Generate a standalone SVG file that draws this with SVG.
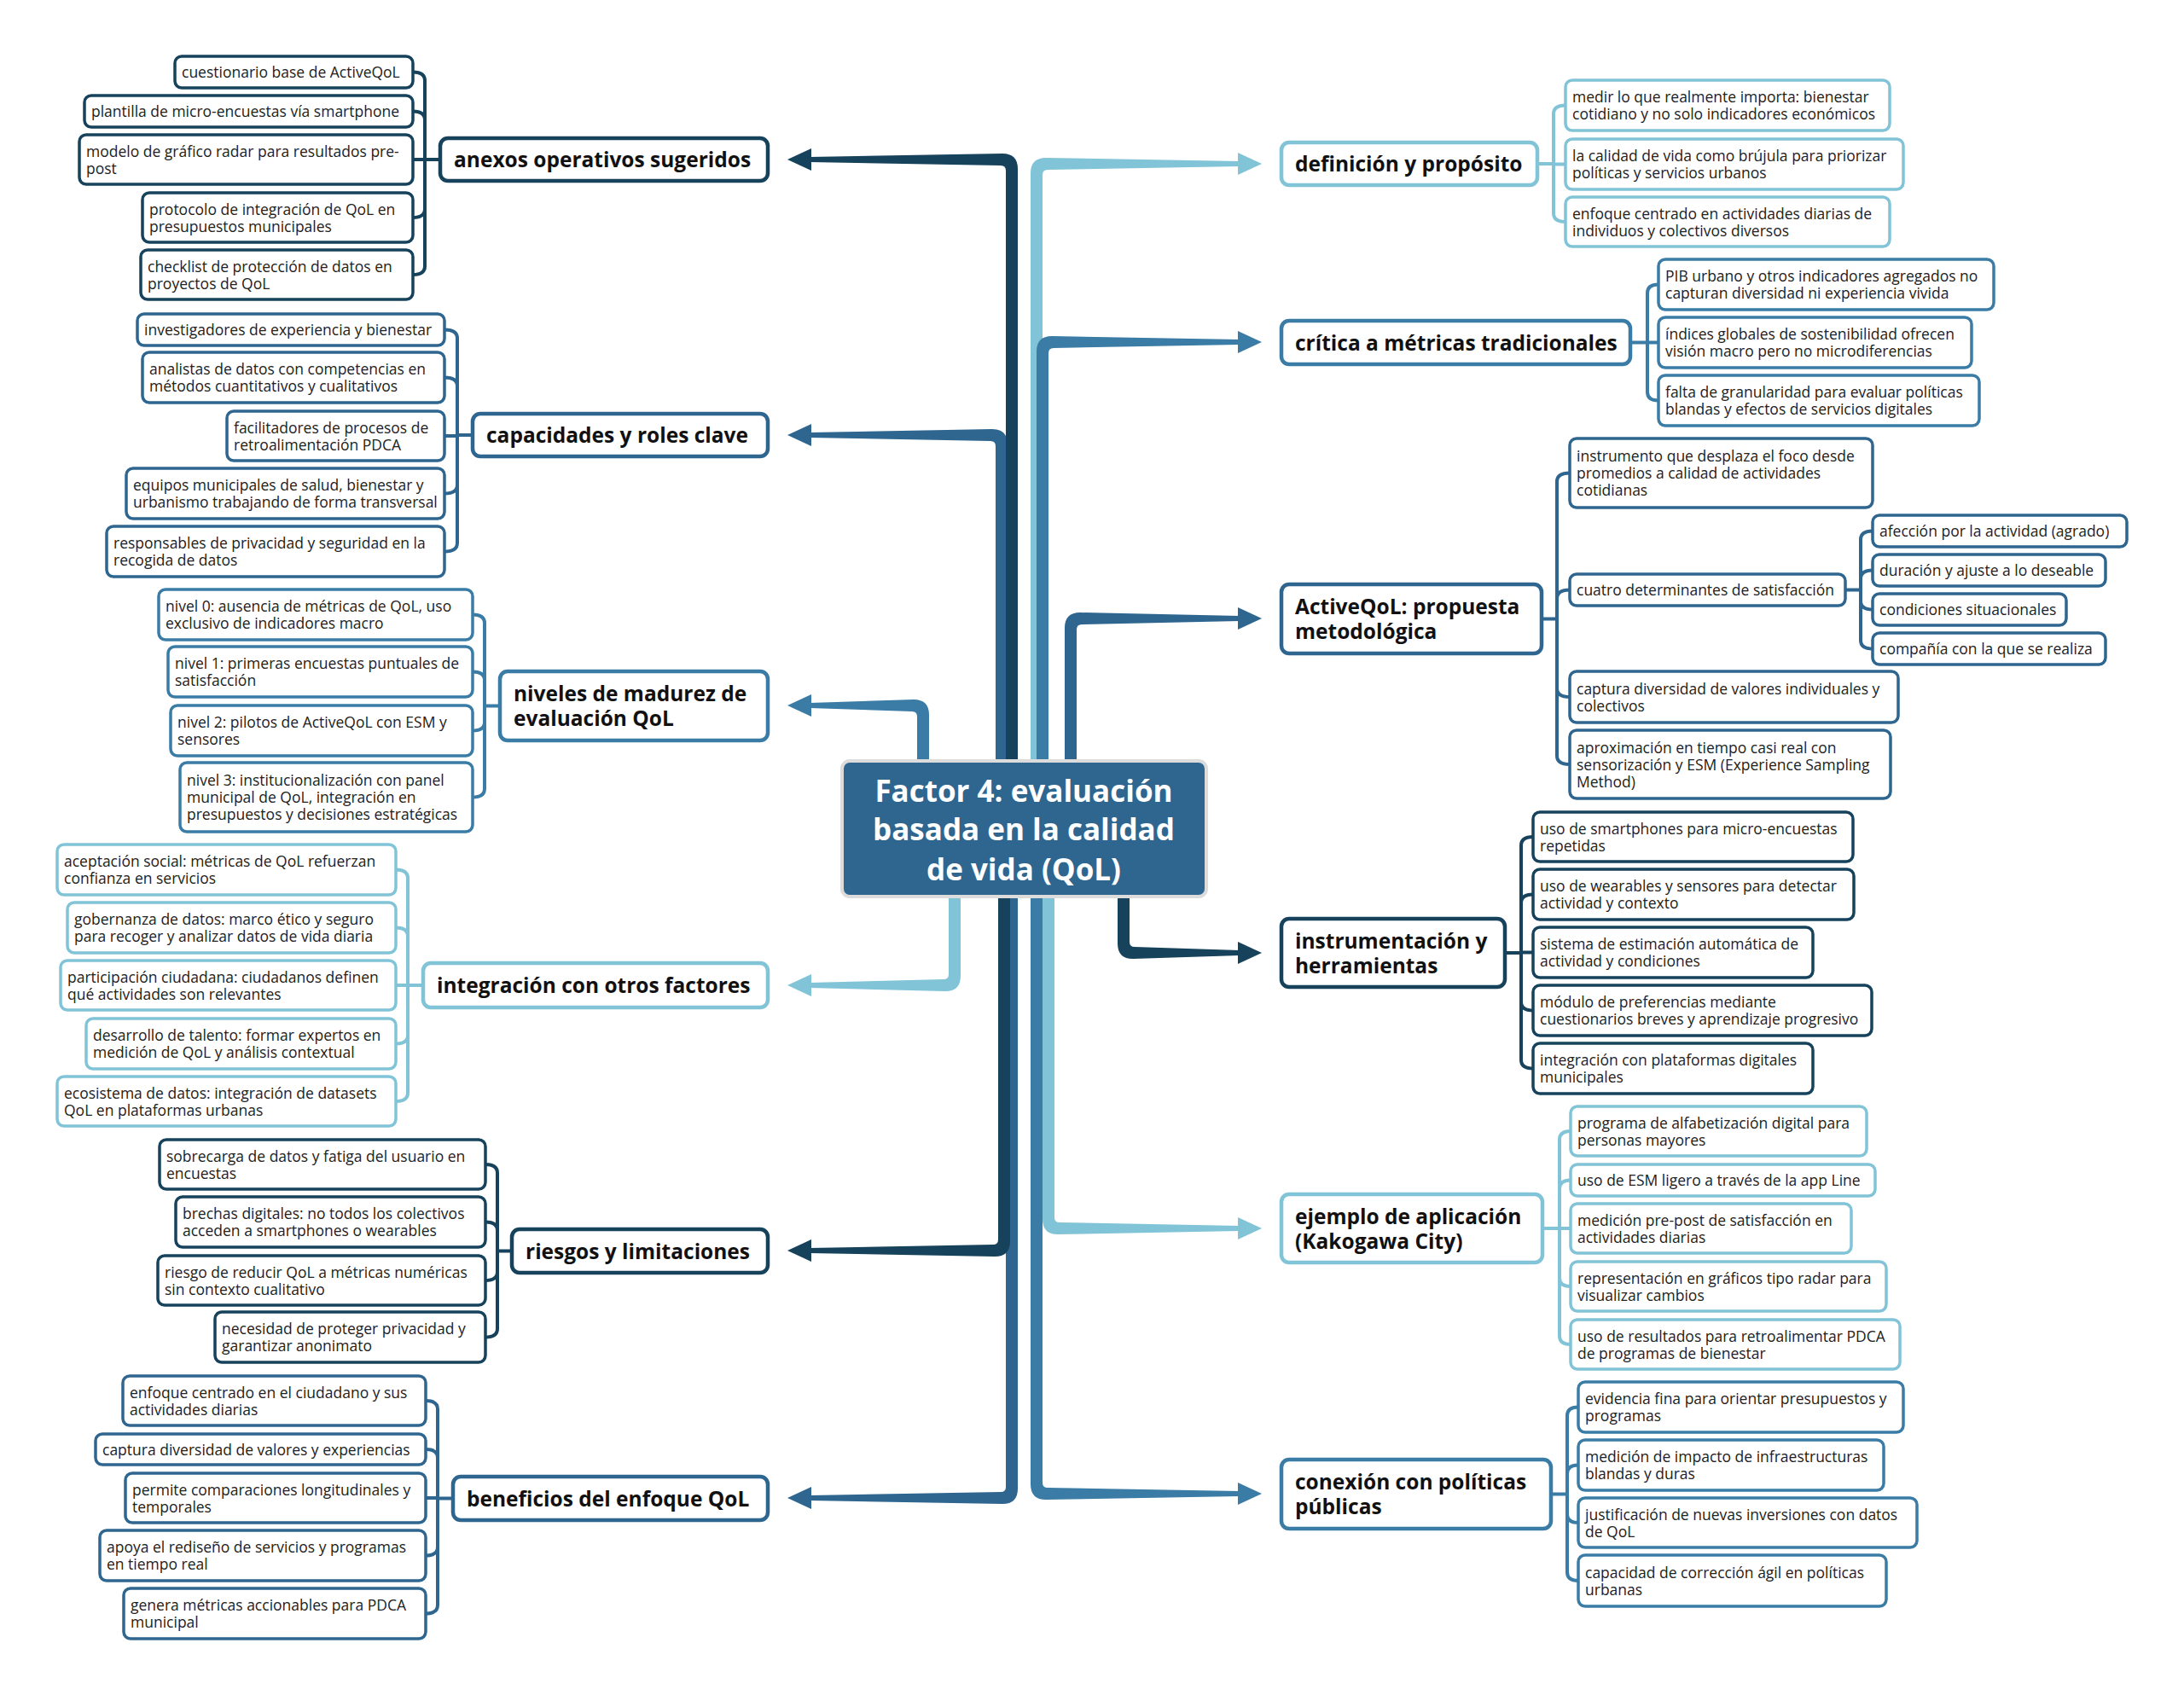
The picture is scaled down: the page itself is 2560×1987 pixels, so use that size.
<svg xmlns="http://www.w3.org/2000/svg" width="2560" height="1987" viewBox="0 0 2560 1987">
<style>
.sub rect{fill:#fff;stroke-width:3.5}
.main rect{fill:#fff;stroke-width:4.5}
.sub text{font-family:"Open Sans","Liberation Sans",sans-serif;font-size:17.5px;fill:#222}
.main text{font-family:"Open Sans","Liberation Sans",sans-serif;font-size:24.5px;font-weight:700;fill:#111}
.c1 rect{stroke:#16425b}.c2 rect{stroke:#2f6690}.c3 rect{stroke:#3a7ca5}.c4 rect{stroke:#81c3d7}
.br{fill:none;stroke-width:4;stroke-linecap:round}
.b1{stroke:#16425b}.b2{stroke:#2f6690}.b3{stroke:#3a7ca5}.b4{stroke:#81c3d7}
.f1{fill:#16425b}.f2{fill:#2f6690}.f3{fill:#3a7ca5}.f4{fill:#81c3d7}
.ctext{font-family:"Open Sans","Liberation Sans",sans-serif;font-size:35px;font-weight:700;fill:#fff}
</style>
<rect width="2560" height="1987" fill="#fff"/>
<g id="connectors">
<g id="main-branches">
<path class="f2" d="M1167,950 L1167,523 Q1167,517 1161,517 L949,513 L949,507 L1163,503 Q1181,503 1181,521 L1181,950 Z"/>
<polygon class="f2" points="923,510 951,497 951,523"/>
<path class="f1" d="M1179,950 L1179,200 Q1179,194 1173,194 L949,190 L949,184 L1175,180 Q1193,180 1193,198 L1193,950 Z"/>
<polygon class="f1" points="923,187 951,174 951,200"/>
<path class="f3" d="M1075,950 L1075,840 Q1075,834 1069,834 L949,830 L949,824 L1071,820 Q1089,820 1089,838 L1089,950 Z"/>
<polygon class="f3" points="923,827 951,814 951,840"/>
<path class="f4" d="M1112,1000 L1112,1142 Q1112,1148 1106,1148 L949,1152 L949,1158 L1108,1162 Q1126,1162 1126,1144 L1126,1000 Z"/>
<polygon class="f4" points="923,1155 951,1142 951,1168"/>
<path class="f2" d="M1179,1000 L1179,1743 Q1179,1749 1173,1749 L949,1753 L949,1759 L1175,1763 Q1193,1763 1193,1745 L1193,1000 Z"/>
<polygon class="f2" points="923,1756 951,1743 951,1769"/>
<path class="f1" d="M1170,1000 L1170,1453 Q1170,1459 1164,1459 L949,1463 L949,1469 L1166,1473 Q1184,1473 1184,1455 L1184,1000 Z"/>
<polygon class="f1" points="923,1466 951,1453 951,1479"/>
<path class="f4" d="M1222,950 L1222,205 Q1222,199 1228,199 L1453,195 L1453,189 L1226,185 Q1208,185 1208,203 L1208,950 Z"/>
<polygon class="f4" points="1479,192 1451,179 1451,205"/>
<path class="f3" d="M1229,950 L1229,414 Q1229,408 1235,408 L1453,404 L1453,398 L1233,394 Q1215,394 1215,412 L1215,950 Z"/>
<polygon class="f3" points="1479,401 1451,388 1451,414"/>
<path class="f2" d="M1262,950 L1262,738 Q1262,732 1268,732 L1453,728 L1453,722 L1266,718 Q1248,718 1248,736 L1248,950 Z"/>
<polygon class="f2" points="1479,725 1451,712 1451,738"/>
<path class="f1" d="M1324,1000 L1324,1104 Q1324,1110 1330,1110 L1453,1114 L1453,1120 L1328,1124 Q1310,1124 1310,1106 L1310,1000 Z"/>
<polygon class="f1" points="1479,1117 1451,1104 1451,1130"/>
<path class="f3" d="M1222,1000 L1222,1738 Q1222,1744 1228,1744 L1453,1748 L1453,1754 L1226,1758 Q1208,1758 1208,1740 L1208,1000 Z"/>
<polygon class="f3" points="1479,1751 1451,1738 1451,1764"/>
<path class="f4" d="M1236,1000 L1236,1427 Q1236,1433 1242,1433 L1453,1437 L1453,1443 L1240,1447 Q1222,1447 1222,1429 L1222,1000 Z"/>
<polygon class="f4" points="1479,1440 1451,1427 1451,1453"/>
</g>
<g id="brackets">
<path class="br b1" d="M498,94.5 V312 M484,84.5 Q498,84.5 498,94.5 M484,130.5 Q498,130.5 498,140.5 M484,187 H498 M484,255 Q498,255 498,245 M484,322 Q498,322 498,312 M516,187 H498"/>
<path class="br b2" d="M536,396.5 V636.5 M521,386.5 Q536,386.5 536,396.5 M521,442.5 Q536,442.5 536,452.5 M521,511 H536 M521,578.5 Q536,578.5 536,568.5 M521,646.5 Q536,646.5 536,636.5 M554,510 H536"/>
<path class="br b3" d="M568,730.5 V924.5 M554,720.5 Q568,720.5 568,730.5 M554,787.5 Q568,787.5 568,797.5 M554,856.5 Q568,856.5 568,846.5 M554,934.5 Q568,934.5 568,924.5 M586,827.5 H568"/>
<path class="br b4" d="M478,1029.5 V1281 M464,1019.5 Q478,1019.5 478,1029.5 M464,1087.5 Q478,1087.5 478,1097.5 M464,1155 H478 M464,1223.5 Q478,1223.5 478,1213.5 M464,1291 Q478,1291 478,1281 M496,1155 H478"/>
<path class="br b1" d="M583,1375 V1557.5 M569,1365 Q583,1365 583,1375 M569,1432.5 Q583,1432.5 583,1442.5 M569,1501 Q583,1501 583,1491 M569,1567.5 Q583,1567.5 583,1557.5 M600,1466.5 H583"/>
<path class="br b2" d="M513,1652 V1881.5 M499,1642 Q513,1642 513,1652 M499,1699 Q513,1699 513,1709 M499,1756 H513 M499,1823.5 Q513,1823.5 513,1813.5 M499,1891.5 Q513,1891.5 513,1881.5 M531,1756.5 H513"/>
<path class="br b4" d="M1821,133.5 V250 M1835,123.5 Q1821,123.5 1821,133.5 M1835,192.5 H1821 M1835,260 Q1821,260 1821,250 M1802,192 H1821"/>
<path class="br b3" d="M1931,343.5 V459.5 M1944,333.5 Q1931,333.5 1931,343.5 M1944,401.5 H1931 M1944,469.5 Q1931,469.5 1931,459.5 M1911,401.5 H1931"/>
<path class="br b2" d="M1825,564.5 V886 M1840,554.5 Q1825,554.5 1825,564.5 M1840,691.5 Q1825,691.5 1825,701.5 M1840,817 Q1825,817 1825,807 M1840,896 Q1825,896 1825,886 M1807,725.5 H1825"/>
<path class="br b2" d="M2181,632.5 V750.5 M2195,622.5 Q2181,622.5 2181,632.5 M2195,668.5 Q2181,668.5 2181,678.5 M2195,714.5 Q2181,714.5 2181,704.5 M2195,760.5 Q2181,760.5 2181,750.5 M2163,691.5 H2181"/>
<path class="br b1" d="M1783,991 V1242.5 M1797,981 Q1783,981 1783,991 M1797,1048.5 Q1783,1048.5 1783,1058.5 M1797,1116.5 H1783 M1797,1184.5 Q1783,1184.5 1783,1174.5 M1797,1252.5 Q1783,1252.5 1783,1242.5 M1764,1117 H1783"/>
<path class="br b4" d="M1828,1336 V1566 M1841,1326 Q1828,1326 1828,1336 M1841,1383.5 Q1828,1383.5 1828,1393.5 M1841,1440 H1828 M1841,1508 Q1828,1508 1828,1498 M1841,1576 Q1828,1576 1828,1566 M1808,1440 H1828"/>
<path class="br b3" d="M1837,1659.5 V1843 M1850,1649.5 Q1837,1649.5 1837,1659.5 M1850,1717.5 Q1837,1717.5 1837,1727.5 M1850,1785 Q1837,1785 1837,1775 M1850,1853 Q1837,1853 1837,1843 M1818,1751.5 H1837"/>
</g>
</g>

<g id="n-center">
<rect x="987" y="892" width="427" height="159" rx="9" fill="#2f6690" stroke="#dcdcdc" stroke-width="4"/>
<text class="ctext" text-anchor="middle" x="1200" y="940">Factor 4: evaluación</text>
<text class="ctext" text-anchor="middle" x="1200" y="985">basada en la calidad</text>
<text class="ctext" text-anchor="middle" x="1200" y="1032">de vida (QoL)</text>
</g>

<g id="n-anexos" class="main c1"><rect x="516" y="162" width="384" height="50" rx="9"/><text x="532" y="196">anexos operativos sugeridos</text></g>
<g id="n-anexos-1" class="sub c1"><rect x="205" y="66" width="279" height="37" rx="8"/><text x="213" y="91">cuestionario base de ActiveQoL</text></g>
<g id="n-anexos-2" class="sub c1"><rect x="99" y="112" width="385" height="37" rx="8"/><text x="107" y="137">plantilla de micro-encuestas vía smartphone</text></g>
<g id="n-anexos-3" class="sub c1"><rect x="93" y="158" width="391" height="58" rx="8"/><text><tspan x="101" y="183.5">modelo de gráfico radar para resultados pre-</tspan><tspan x="101" y="203.5">post</tspan></text></g>
<g id="n-anexos-4" class="sub c1"><rect x="167" y="226" width="317" height="58" rx="8"/><text><tspan x="175" y="251.5">protocolo de integración de QoL en</tspan><tspan x="175" y="271.5">presupuestos municipales</tspan></text></g>
<g id="n-anexos-5" class="sub c1"><rect x="165" y="293" width="319" height="58" rx="8"/><text><tspan x="173" y="318.5">checklist de protección de datos en</tspan><tspan x="173" y="338.5">proyectos de QoL</tspan></text></g>

<g id="n-capacidades" class="main c2"><rect x="554" y="485" width="346" height="50" rx="9"/><text x="570" y="519">capacidades y roles clave</text></g>
<g id="n-capacidades-1" class="sub c2"><rect x="161" y="368" width="360" height="37" rx="8"/><text x="169" y="393">investigadores de experiencia y bienestar</text></g>
<g id="n-capacidades-2" class="sub c2"><rect x="167" y="413" width="354" height="59" rx="8"/><text><tspan x="175" y="439">analistas de datos con competencias en</tspan><tspan x="175" y="459">métodos cuantitativos y cualitativos</tspan></text></g>
<g id="n-capacidades-3" class="sub c2"><rect x="266" y="482" width="255" height="58" rx="8"/><text><tspan x="274" y="507.5">facilitadores de procesos de</tspan><tspan x="274" y="527.5">retroalimentación PDCA</tspan></text></g>
<g id="n-capacidades-4" class="sub c2"><rect x="148" y="549" width="373" height="59" rx="8"/><text><tspan x="156" y="575">equipos municipales de salud, bienestar y</tspan><tspan x="156" y="595">urbanismo trabajando de forma transversal</tspan></text></g>
<g id="n-capacidades-5" class="sub c2"><rect x="125" y="617" width="396" height="59" rx="8"/><text><tspan x="133" y="643">responsables de privacidad y seguridad en la</tspan><tspan x="133" y="663">recogida de datos</tspan></text></g>

<g id="n-niveles" class="main c3"><rect x="586" y="787" width="314" height="81" rx="9"/><text><tspan x="602" y="822">niveles de madurez de</tspan><tspan x="602" y="851">evaluación QoL</tspan></text></g>
<g id="n-niveles-1" class="sub c3"><rect x="186" y="691" width="368" height="59" rx="8"/><text><tspan x="194" y="717">nivel 0: ausencia de métricas de QoL, uso</tspan><tspan x="194" y="737">exclusivo de indicadores macro</tspan></text></g>
<g id="n-niveles-2" class="sub c3"><rect x="197" y="758" width="357" height="59" rx="8"/><text><tspan x="205" y="784">nivel 1: primeras encuestas puntuales de</tspan><tspan x="205" y="804">satisfacción</tspan></text></g>
<g id="n-niveles-3" class="sub c3"><rect x="200" y="827" width="354" height="59" rx="8"/><text><tspan x="208" y="853">nivel 2: pilotos de ActiveQoL con ESM y</tspan><tspan x="208" y="873">sensores</tspan></text></g>
<g id="n-niveles-4" class="sub c3"><rect x="211" y="894" width="343" height="81" rx="8"/><text><tspan x="219" y="921">nivel 3: institucionalización con panel</tspan><tspan x="219" y="941">municipal de QoL, integración en</tspan><tspan x="219" y="961">presupuestos y decisiones estratégicas</tspan></text></g>

<g id="n-integracion" class="main c4"><rect x="496" y="1129" width="404" height="52" rx="9"/><text x="512" y="1164">integración con otros factores</text></g>
<g id="n-integracion-1" class="sub c4"><rect x="67" y="990" width="397" height="59" rx="8"/><text><tspan x="75" y="1016">aceptación social: métricas de QoL refuerzan</tspan><tspan x="75" y="1036">confianza en servicios</tspan></text></g>
<g id="n-integracion-2" class="sub c4"><rect x="79" y="1058" width="385" height="59" rx="8"/><text><tspan x="87" y="1084">gobernanza de datos: marco ético y seguro</tspan><tspan x="87" y="1104">para recoger y analizar datos de vida diaria</tspan></text></g>
<g id="n-integracion-3" class="sub c4"><rect x="71" y="1126" width="393" height="58" rx="8"/><text><tspan x="79" y="1151.5">participación ciudadana: ciudadanos definen</tspan><tspan x="79" y="1171.5">qué actividades son relevantes</tspan></text></g>
<g id="n-integracion-4" class="sub c4"><rect x="101" y="1194" width="363" height="59" rx="8"/><text><tspan x="109" y="1220">desarrollo de talento: formar expertos en</tspan><tspan x="109" y="1240">medición de QoL y análisis contextual</tspan></text></g>
<g id="n-integracion-5" class="sub c4"><rect x="67" y="1262" width="397" height="58" rx="8"/><text><tspan x="75" y="1287.5">ecosistema de datos: integración de datasets</tspan><tspan x="75" y="1307.5">QoL en plataformas urbanas</tspan></text></g>

<g id="n-riesgos" class="main c1"><rect x="600" y="1441" width="300" height="51" rx="9"/><text x="616" y="1475.5">riesgos y limitaciones</text></g>
<g id="n-riesgos-1" class="sub c1"><rect x="187" y="1336" width="382" height="58" rx="8"/><text><tspan x="195" y="1361.5">sobrecarga de datos y fatiga del usuario en</tspan><tspan x="195" y="1381.5">encuestas</tspan></text></g>
<g id="n-riesgos-2" class="sub c1"><rect x="206" y="1403" width="363" height="59" rx="8"/><text><tspan x="214" y="1429">brechas digitales: no todos los colectivos</tspan><tspan x="214" y="1449">acceden a smartphones o wearables</tspan></text></g>
<g id="n-riesgos-3" class="sub c1"><rect x="185" y="1472" width="384" height="58" rx="8"/><text><tspan x="193" y="1497.5">riesgo de reducir QoL a métricas numéricas</tspan><tspan x="193" y="1517.5">sin contexto cualitativo</tspan></text></g>
<g id="n-riesgos-4" class="sub c1"><rect x="252" y="1538" width="317" height="59" rx="8"/><text><tspan x="260" y="1564">necesidad de proteger privacidad y</tspan><tspan x="260" y="1584">garantizar anonimato</tspan></text></g>

<g id="n-beneficios" class="main c2"><rect x="531" y="1731" width="369" height="51" rx="9"/><text x="547" y="1765.5">beneficios del enfoque QoL</text></g>
<g id="n-beneficios-1" class="sub c2"><rect x="144" y="1613" width="355" height="58" rx="8"/><text><tspan x="152" y="1638.5">enfoque centrado en el ciudadano y sus</tspan><tspan x="152" y="1658.5">actividades diarias</tspan></text></g>
<g id="n-beneficios-2" class="sub c2"><rect x="112" y="1681" width="387" height="36" rx="8"/><text x="120" y="1705.5">captura diversidad de valores y experiencias</text></g>
<g id="n-beneficios-3" class="sub c2"><rect x="147" y="1727" width="352" height="58" rx="8"/><text><tspan x="155" y="1752.5">permite comparaciones longitudinales y</tspan><tspan x="155" y="1772.5">temporales</tspan></text></g>
<g id="n-beneficios-4" class="sub c2"><rect x="117" y="1794" width="382" height="59" rx="8"/><text><tspan x="125" y="1820">apoya el rediseño de servicios y programas</tspan><tspan x="125" y="1840">en tiempo real</tspan></text></g>
<g id="n-beneficios-5" class="sub c2"><rect x="145" y="1862" width="354" height="59" rx="8"/><text><tspan x="153" y="1888">genera métricas accionables para PDCA</tspan><tspan x="153" y="1908">municipal</tspan></text></g>

<g id="n-definicion" class="main c4"><rect x="1502" y="167" width="300" height="50" rx="9"/><text x="1518" y="201">definición y propósito</text></g>
<g id="n-definicion-1" class="sub c4"><rect x="1835" y="94" width="380" height="59" rx="8"/><text><tspan x="1843" y="120">medir lo que realmente importa: bienestar</tspan><tspan x="1843" y="140">cotidiano y no solo indicadores económicos</tspan></text></g>
<g id="n-definicion-2" class="sub c4"><rect x="1835" y="163" width="396" height="59" rx="8"/><text><tspan x="1843" y="189">la calidad de vida como brújula para priorizar</tspan><tspan x="1843" y="209">políticas y servicios urbanos</tspan></text></g>
<g id="n-definicion-3" class="sub c4"><rect x="1835" y="231" width="380" height="58" rx="8"/><text><tspan x="1843" y="256.5">enfoque centrado en actividades diarias de</tspan><tspan x="1843" y="276.5">individuos y colectivos diversos</tspan></text></g>

<g id="n-critica" class="main c3"><rect x="1502" y="376" width="409" height="51" rx="9"/><text x="1518" y="410.5">crítica a métricas tradicionales</text></g>
<g id="n-critica-1" class="sub c3"><rect x="1944" y="304" width="393" height="59" rx="8"/><text><tspan x="1952" y="330">PIB urbano y otros indicadores agregados no</tspan><tspan x="1952" y="350">capturan diversidad ni experiencia vivida</tspan></text></g>
<g id="n-critica-2" class="sub c3"><rect x="1944" y="372" width="367" height="59" rx="8"/><text><tspan x="1952" y="398">índices globales de sostenibilidad ofrecen</tspan><tspan x="1952" y="418">visión macro pero no microdiferencias</tspan></text></g>
<g id="n-critica-3" class="sub c3"><rect x="1944" y="440" width="376" height="59" rx="8"/><text><tspan x="1952" y="466">falta de granularidad para evaluar políticas</tspan><tspan x="1952" y="486">blandas y efectos de servicios digitales</tspan></text></g>

<g id="n-activeqol" class="main c2"><rect x="1502" y="685" width="305" height="81" rx="9"/><text><tspan x="1518" y="720">ActiveQoL: propuesta</tspan><tspan x="1518" y="749">metodológica</tspan></text></g>
<g id="n-activeqol-1" class="sub c2"><rect x="1840" y="514" width="355" height="81" rx="8"/><text><tspan x="1848" y="541">instrumento que desplaza el foco desde</tspan><tspan x="1848" y="561">promedios a calidad de actividades</tspan><tspan x="1848" y="581">cotidianas</tspan></text></g>
<g id="n-activeqol-2" class="sub c2"><rect x="1840" y="673" width="323" height="37" rx="8"/><text x="1848" y="698">cuatro determinantes de satisfacción</text></g>
<g id="n-activeqol-2-1" class="sub c2"><rect x="2195" y="604" width="298" height="37" rx="8"/><text x="2203" y="629">afección por la actividad (agrado)</text></g>
<g id="n-activeqol-2-2" class="sub c2"><rect x="2195" y="650" width="273" height="37" rx="8"/><text x="2203" y="675">duración y ajuste a lo deseable</text></g>
<g id="n-activeqol-2-3" class="sub c2"><rect x="2195" y="696" width="227" height="37" rx="8"/><text x="2203" y="721">condiciones situacionales</text></g>
<g id="n-activeqol-2-4" class="sub c2"><rect x="2195" y="742" width="273" height="37" rx="8"/><text x="2203" y="767">compañía con la que se realiza</text></g>
<g id="n-activeqol-3" class="sub c2"><rect x="1840" y="787" width="385" height="60" rx="8"/><text><tspan x="1848" y="813.5">captura diversidad de valores individuales y</tspan><tspan x="1848" y="833.5">colectivos</tspan></text></g>
<g id="n-activeqol-4" class="sub c2"><rect x="1840" y="856" width="376" height="80" rx="8"/><text><tspan x="1848" y="882.5">aproximación en tiempo casi real con</tspan><tspan x="1848" y="902.5">sensorización y ESM (Experience Sampling</tspan><tspan x="1848" y="922.5">Method)</tspan></text></g>

<g id="n-instrumentacion" class="main c1"><rect x="1502" y="1077" width="262" height="80" rx="9"/><text><tspan x="1518" y="1111.5">instrumentación y</tspan><tspan x="1518" y="1140.5">herramientas</tspan></text></g>
<g id="n-instrumentacion-1" class="sub c1"><rect x="1797" y="952" width="375" height="58" rx="8"/><text><tspan x="1805" y="977.5">uso de smartphones para micro-encuestas</tspan><tspan x="1805" y="997.5">repetidas</tspan></text></g>
<g id="n-instrumentacion-2" class="sub c1"><rect x="1797" y="1019" width="376" height="59" rx="8"/><text><tspan x="1805" y="1045">uso de wearables y sensores para detectar</tspan><tspan x="1805" y="1065">actividad y contexto</tspan></text></g>
<g id="n-instrumentacion-3" class="sub c1"><rect x="1797" y="1087" width="328" height="59" rx="8"/><text><tspan x="1805" y="1113">sistema de estimación automática de</tspan><tspan x="1805" y="1133">actividad y condiciones</tspan></text></g>
<g id="n-instrumentacion-4" class="sub c1"><rect x="1797" y="1155" width="397" height="59" rx="8"/><text><tspan x="1805" y="1181">módulo de preferencias mediante</tspan><tspan x="1805" y="1201">cuestionarios breves y aprendizaje progresivo</tspan></text></g>
<g id="n-instrumentacion-5" class="sub c1"><rect x="1797" y="1223" width="328" height="59" rx="8"/><text><tspan x="1805" y="1249">integración con plataformas digitales</tspan><tspan x="1805" y="1269">municipales</tspan></text></g>

<g id="n-ejemplo" class="main c4"><rect x="1502" y="1400" width="306" height="80" rx="9"/><text><tspan x="1518" y="1434.5">ejemplo de aplicación</tspan><tspan x="1518" y="1463.5">(Kakogawa City)</tspan></text></g>
<g id="n-ejemplo-1" class="sub c4"><rect x="1841" y="1297" width="347" height="58" rx="8"/><text><tspan x="1849" y="1322.5">programa de alfabetización digital para</tspan><tspan x="1849" y="1342.5">personas mayores</tspan></text></g>
<g id="n-ejemplo-2" class="sub c4"><rect x="1841" y="1365" width="357" height="37" rx="8"/><text x="1849" y="1390">uso de ESM ligero a través de la app Line</text></g>
<g id="n-ejemplo-3" class="sub c4"><rect x="1841" y="1411" width="329" height="58" rx="8"/><text><tspan x="1849" y="1436.5">medición pre-post de satisfacción en</tspan><tspan x="1849" y="1456.5">actividades diarias</tspan></text></g>
<g id="n-ejemplo-4" class="sub c4"><rect x="1841" y="1479" width="370" height="58" rx="8"/><text><tspan x="1849" y="1504.5">representación en gráficos tipo radar para</tspan><tspan x="1849" y="1524.5">visualizar cambios</tspan></text></g>
<g id="n-ejemplo-5" class="sub c4"><rect x="1841" y="1547" width="386" height="58" rx="8"/><text><tspan x="1849" y="1572.5">uso de resultados para retroalimentar PDCA</tspan><tspan x="1849" y="1592.5">de programas de bienestar</tspan></text></g>

<g id="n-conexion" class="main c3"><rect x="1502" y="1711" width="316" height="81" rx="9"/><text><tspan x="1518" y="1746">conexión con políticas</tspan><tspan x="1518" y="1775">públicas</tspan></text></g>
<g id="n-conexion-1" class="sub c3"><rect x="1850" y="1620" width="381" height="59" rx="8"/><text><tspan x="1858" y="1646">evidencia fina para orientar presupuestos y</tspan><tspan x="1858" y="1666">programas</tspan></text></g>
<g id="n-conexion-2" class="sub c3"><rect x="1850" y="1688" width="358" height="59" rx="8"/><text><tspan x="1858" y="1714">medición de impacto de infraestructuras</tspan><tspan x="1858" y="1734">blandas y duras</tspan></text></g>
<g id="n-conexion-3" class="sub c3"><rect x="1850" y="1756" width="397" height="58" rx="8"/><text><tspan x="1858" y="1781.5">justificación de nuevas inversiones con datos</tspan><tspan x="1858" y="1801.5">de QoL</tspan></text></g>
<g id="n-conexion-4" class="sub c3"><rect x="1850" y="1823" width="361" height="60" rx="8"/><text><tspan x="1858" y="1849.5">capacidad de corrección ágil en políticas</tspan><tspan x="1858" y="1869.5">urbanas</tspan></text></g>
</svg>
